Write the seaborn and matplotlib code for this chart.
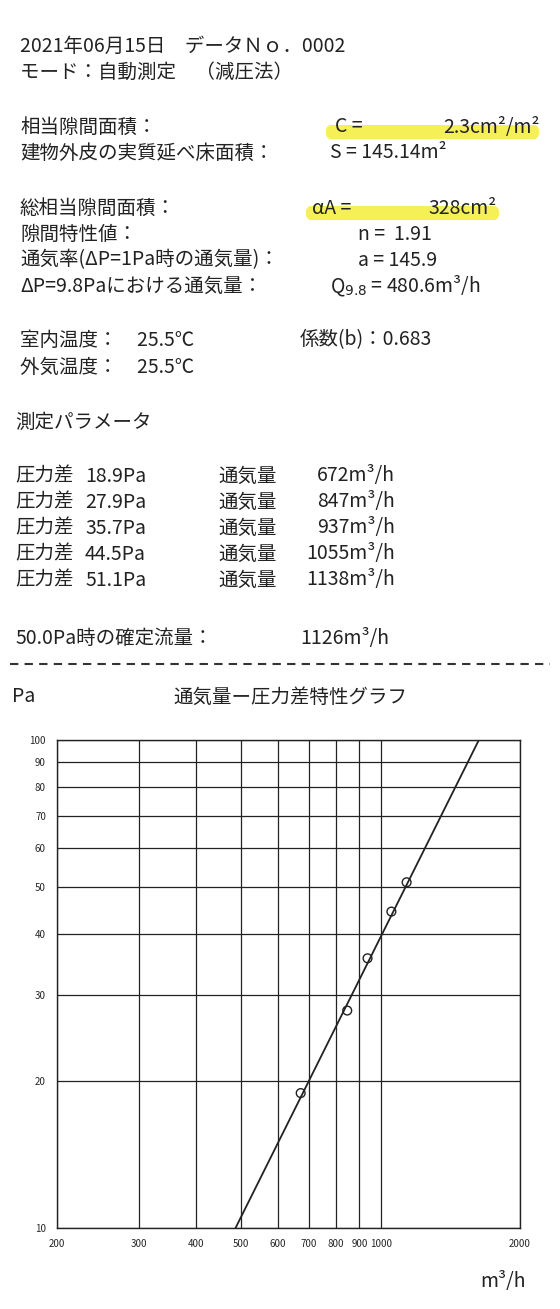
import matplotlib
matplotlib.use("Agg")
import matplotlib.pyplot as plt
import seaborn as sns
import pandas as pd
from matplotlib.patches import FancyBboxPatch
from matplotlib.lines import Line2D

# 測定データ
pressure_pa = [18.9, 27.9, 35.7, 44.5, 51.1]
flow_m3h = [672, 847, 937, 1055, 1138]
# 近似直線 Q = 145.9 * dP^(1/1.91)
line_p = [10, 100]
line_q = [486, 1630]

x_ticks = [200, 300, 400, 500, 600, 700, 800, 900, 1000, 2000]
y_ticks = [10, 20, 30, 40, 50, 60, 70, 80, 90, 100]

sns.set_style("white")
plt.rcParams['font.family'] = ['Noto Sans CJK JP', 'DejaVu Sans']

W, H = 560, 1309
fig = plt.figure(figsize=(W / 100, H / 100), dpi=100)
fig.patch.set_facecolor("white")

FS = 14


def txt(x, y, s, ha="left", fs=FS, **kw):
    fig.text(x / W, 1 - y / H, s, ha=ha, va="center", fontsize=fs, color="#222222", **kw)


def marker(x0, x1, y):
    fig.patches.append(FancyBboxPatch((x0 / W, 1 - (y + 7) / H), (x1 - x0) / W, 14 / H,
                                      boxstyle="round,pad=0,rounding_size=0.01",
                                      transform=fig.transFigure, facecolor="#f5ee3a",
                                      edgecolor="none", alpha=0.85, zorder=0))


marker(325, 540, 132)
marker(305, 500, 213)

txt(20, 46, "2021年06月15日　データＮｏ．0002")
txt(20, 72, "モード：自動測定　（減圧法）")
txt(20, 127, "相当隙間面積：")
txt(335, 127, "C =")
txt(540, 127, "2.3cm²/m²", ha="right")
txt(20, 153, "建物外皮の実質延べ床面積：")
txt(330, 153, "S = 145.14m²")
txt(20, 208, "総相当隙間面積：")
txt(312, 208, "αA =")
txt(497, 208, "328cm²", ha="right")
txt(20, 234, "隙間特性値：")
txt(358, 234, "n =  1.91")
txt(20, 260, "通気率(ΔP=1Pa時の通気量)：")
txt(358, 260, "a = 145.9")
txt(20, 286, "ΔP=9.8Paにおける通気量：")
txt(330, 286, "Q$_{9.8}$ = 480.6m³/h")
txt(20, 340, "室内温度：　25.5℃")
txt(300, 340, "係数(b)：0.683")
txt(20, 367, "外気温度：　25.5℃")
txt(15, 422, "測定パラメータ")
for i, (p, q) in enumerate(zip(pressure_pa, flow_m3h)):
    y = 476 + 26 * i
    txt(15, y, "圧力差")
    txt(85, y, f"{p:.1f}Pa")
    txt(218, y, "通気量")
    txt(395, y, f"{q}m³/h", ha="right")
txt(15, 638, "50.0Pa時の確定流量：")
txt(300, 638, "1126m³/h")
fig.add_artist(Line2D([10 / W, 550 / W], [1 - 664 / H] * 2, transform=fig.transFigure,
                      color="#333333", lw=1.5, linestyle=(0, (4, 3))))
txt(12, 697, "Pa")
txt(290, 697, "通気量ー圧力差特性グラフ", ha="center")
txt(480, 1282, "m³/h")

ax = fig.add_axes([57 / W, 81 / H, 463 / W, 488 / H])
df_pts = pd.DataFrame({"q": flow_m3h, "p": pressure_pa})
df_line = pd.DataFrame({"q": line_q, "p": line_p})
sns.lineplot(data=df_line, x="q", y="p", ax=ax, color="#222222", lw=1.3)
sns.scatterplot(data=df_pts, x="q", y="p", ax=ax, s=40, facecolor="none",
                edgecolor="#222222", linewidth=1.0, zorder=3)
ax.set_xscale("log")
ax.set_yscale("log")
ax.set_xlim(200, 2000)
ax.set_ylim(10, 100)
ax.set_xticks(x_ticks)
ax.set_xticklabels([str(t) for t in x_ticks], fontsize=7)
ax.set_yticks(y_ticks)
ax.set_yticklabels([str(t) for t in y_ticks], fontsize=7)
ax.xaxis.set_minor_locator(matplotlib.ticker.NullLocator())
ax.yaxis.set_minor_locator(matplotlib.ticker.NullLocator())
ax.grid(True, color="#222222", lw=0.9)
ax.tick_params(length=0, pad=8)
for s in ax.spines.values():
    s.set_color("#222222")
    s.set_linewidth(1.0)
ax.set_xlabel("")
ax.set_ylabel("")

fig.savefig("out.png", dpi=100, facecolor="white")
